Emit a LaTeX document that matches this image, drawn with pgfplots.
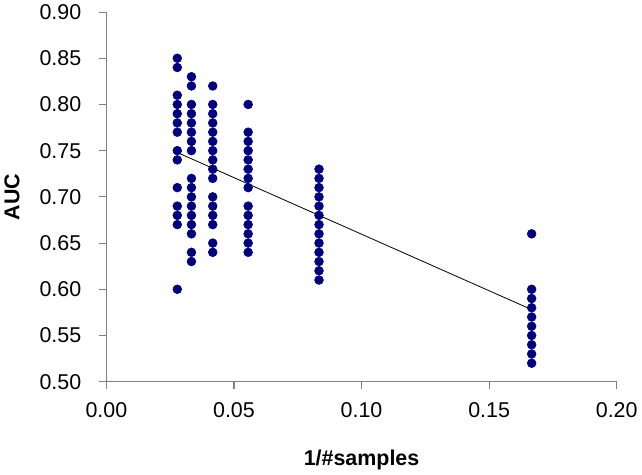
\documentclass[border=0pt]{standalone}
\usepackage{pgfplots}
\pgfplotsset{compat=1.18}
\usepackage{fontspec}
\setmainfont{Liberation Sans}
\definecolor{dotblue}{RGB}{0,0,128}
\definecolor{axgray}{RGB}{128,128,128}
\begin{document}
\begin{tikzpicture}
\begin{axis}[
  scale only axis,
  width=381pt, height=276pt,
  xmin=0, xmax=0.2, ymin=0.5, ymax=0.9,
  xtick={0,0.05,...,0.2}, ytick={0.5,0.55,...,0.9},
  axis lines*=left,
  axis line style={axgray, line width=0.8pt},
  tick style={axgray, line width=0.8pt},
  tick align=outside,
  major tick length=5.25pt,
  /pgf/number format/.cd, fixed, fixed zerofill, precision=2, assume math mode=true,
  /pgfplots/.cd,
  ticklabel style={font=\fontsize{16pt}{19pt}\selectfont},
  xticklabel style={yshift=-7pt},
  yticklabel style={xshift=-10pt},
  xlabel={\textbf{1/\#samples}},
  ylabel={\textbf{AUC}},
  label style={font=\fontsize{16pt}{19pt}\selectfont},
  xlabel style={yshift=-17pt},
  ylabel style={yshift=8pt},
  clip=false,
]
\addplot[black, line width=0.6pt, forget plot] coordinates {(0.02778,0.748) (0.16667,0.578)};
\addplot[only marks, mark=*, mark size=3.3pt, mark options={fill=dotblue, draw=dotblue}] coordinates {
(0.02778,0.85)(0.02778,0.84)(0.02778,0.81)(0.02778,0.80)(0.02778,0.79)(0.02778,0.78)(0.02778,0.77)
(0.02778,0.75)(0.02778,0.74)(0.02778,0.71)(0.02778,0.69)(0.02778,0.68)(0.02778,0.67)(0.02778,0.60)
(0.03333,0.83)(0.03333,0.82)(0.03333,0.80)(0.03333,0.79)(0.03333,0.78)(0.03333,0.77)(0.03333,0.76)
(0.03333,0.75)(0.03333,0.72)(0.03333,0.71)(0.03333,0.70)(0.03333,0.69)(0.03333,0.68)(0.03333,0.67)
(0.03333,0.66)(0.03333,0.64)(0.03333,0.63)
(0.04167,0.82)(0.04167,0.80)(0.04167,0.79)(0.04167,0.78)(0.04167,0.77)(0.04167,0.76)(0.04167,0.75)
(0.04167,0.74)(0.04167,0.73)(0.04167,0.72)(0.04167,0.70)(0.04167,0.69)(0.04167,0.68)(0.04167,0.67)
(0.04167,0.65)(0.04167,0.64)
(0.05556,0.80)(0.05556,0.77)(0.05556,0.76)(0.05556,0.75)(0.05556,0.74)(0.05556,0.73)(0.05556,0.72)
(0.05556,0.71)(0.05556,0.69)(0.05556,0.68)(0.05556,0.67)(0.05556,0.66)(0.05556,0.65)(0.05556,0.64)
(0.08333,0.73)(0.08333,0.72)(0.08333,0.71)(0.08333,0.70)(0.08333,0.69)(0.08333,0.68)(0.08333,0.67)
(0.08333,0.66)(0.08333,0.65)(0.08333,0.64)(0.08333,0.63)(0.08333,0.62)(0.08333,0.61)
(0.16667,0.66)(0.16667,0.60)(0.16667,0.59)(0.16667,0.58)(0.16667,0.57)(0.16667,0.56)(0.16667,0.55)
(0.16667,0.54)(0.16667,0.53)(0.16667,0.52)
};
\end{axis}
\end{tikzpicture}
\end{document}
